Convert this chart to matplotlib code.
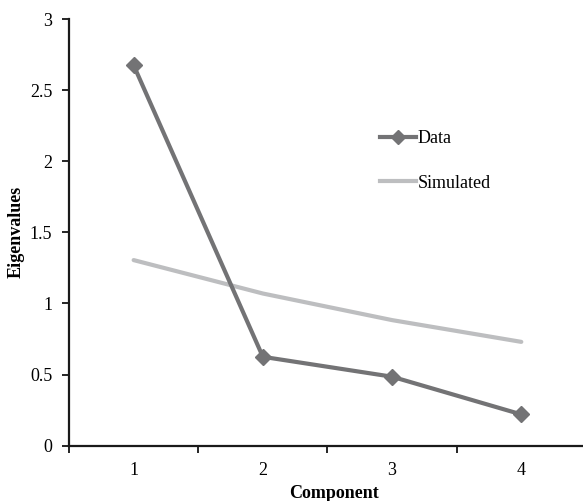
import matplotlib
matplotlib.use("Agg")
import matplotlib.pyplot as plt
from matplotlib.lines import Line2D

# 数据
components = [1, 2, 3, 4]
data_eig = [2.675, 0.625, 0.485, 0.22]
sim_eig = [1.305, 1.07, 0.883, 0.73]
y_ticks = [0, 0.5, 1, 1.5, 2, 2.5, 3]
y_tick_labels = ["0", "0.5", "1", "1.5", "2", "2.5", "3"]

plt.rcParams["font.family"] = ["Liberation Serif", "DejaVu Serif"]

fig = plt.figure(figsize=(5.83, 5.01), dpi=100)
ax = fig.add_axes([0.1184, 0.1104, 0.8866, 0.8516])

data_color = "#737375"
sim_color = "#bdbec0"

ax.plot(components, sim_eig, color=sim_color, linewidth=3.0,
        solid_capstyle="round", label="Simulated", zorder=2)
ax.plot(components, data_eig, color=data_color, linewidth=3.0,
        marker="D", markersize=8, solid_capstyle="round", label="Data", zorder=3)

ax.set_xlim(0.5, 4.5)
ax.set_ylim(0, 3)

# 类别轴：刻度在类别之间，标签在中心
ax.set_xticks(components)
ax.set_xticklabels([str(c) for c in components])
ax.set_xticks([0.5, 1.5, 2.5, 3.5, 4.5], minor=True)
ax.tick_params(axis="x", which="major", length=0, pad=12, labelsize=13)
ax.tick_params(axis="x", which="minor", length=5, width=1.2, direction="out")

ax.set_yticks(y_ticks)
ax.set_yticklabels(y_tick_labels)
ax.tick_params(axis="y", length=5, width=1.2, direction="out", pad=7, labelsize=13)

for side in ["top", "right"]:
    ax.spines[side].set_visible(False)
for side in ["left", "bottom"]:
    ax.spines[side].set_linewidth(1.6)
    ax.spines[side].set_color("#1a1a1a")

ax.set_xlabel("Component", fontsize=13, fontweight="bold")
ax.set_ylabel("Eigenvalues", fontsize=13, fontweight="bold")
ax.xaxis.set_label_coords(0.5117, -0.111)
ax.yaxis.set_label_coords(-0.102, 0.5)
ax.xaxis.label.set_va("center")
ax.yaxis.label.set_va("center")

handles = [
    Line2D([], [], color=data_color, linewidth=3.0, marker="D", markersize=7),
    Line2D([], [], color=sim_color, linewidth=3.0),
]
ax.legend(handles, ["Data", "Simulated"], loc="upper left",
          bbox_to_anchor=(0.584, 0.76), frameon=False, fontsize=13,
          borderpad=0, handlelength=2.0, handletextpad=0.1, labelspacing=1.5)

fig.savefig("out.png", dpi=100)
